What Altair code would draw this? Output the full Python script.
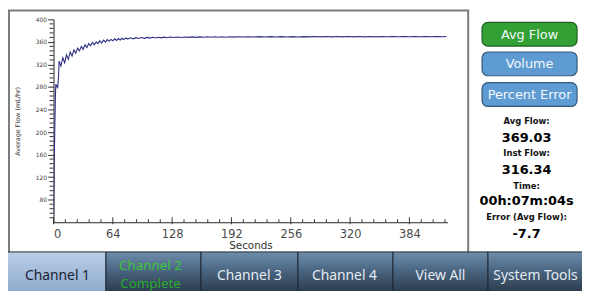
import altair as alt
import pandas as pd

# ---------------- data ----------------
seconds = [0, 1, 2, 2.5, 3.5, 4.5, 5.5, 6,
           8, 10, 12, 14, 16, 18, 20, 22, 24, 26, 28, 30, 32, 34, 36, 38, 40,
           42, 44, 46, 48, 50, 52, 54, 56, 58, 60, 62, 64, 66, 68, 70, 72, 74, 76, 78, 80,
           83, 86, 89, 92, 95, 98, 101, 104, 107, 110, 113, 116, 119, 122,
           126, 130, 134, 138, 142, 146, 150, 154, 158, 162, 166, 170, 174, 178, 182, 186, 190, 194, 198,
           204, 210, 216, 222, 228, 234, 240, 246, 252, 258, 264, 270, 276, 282, 288, 294, 300,
           306, 312, 318, 324, 330, 336, 342, 348, 354, 360, 366, 372, 378, 384, 390, 396, 402,
           408, 414, 420, 424]
avg_flow = [55, 170, 262, 285, 281, 279, 300, 326,
            317, 332, 323, 337, 329, 342, 335, 346, 340, 349, 344, 352, 347, 355, 350, 357, 353,
            359, 355, 360, 357, 362, 358, 363, 359.5, 364, 361, 364.5, 362, 365.5, 362.5, 366, 363.5, 366.5, 364, 367, 365,
            367.2, 365.5, 367.5, 366, 367.8, 366.3, 368, 366.7, 368.2, 367, 368.3, 367.2, 368.5, 367.5,
            368.6, 367.7, 368.7, 367.9, 368.8, 368.0, 368.9, 368.1, 368.9, 368.2, 369.0, 368.3, 369.0, 368.4, 369.1, 368.4, 369.1, 368.5, 369.2,
            368.6, 369.2, 368.7, 369.3, 368.7, 369.3, 368.8, 369.4, 368.8, 369.4, 368.8, 369.4, 368.9, 369.5, 368.9, 369.5, 368.9,
            369.5, 369.0, 369.5, 369.0, 369.6, 369.0, 369.6, 369.0, 369.6, 369.1, 369.6, 369.1, 369.7, 369.1, 369.7, 369.1, 369.7,
            369.2, 369.7, 369.2, 369.5]

x_tick_values = [0, 64, 128, 192, 256, 320, 384]
y_tick_values = [80, 120, 160, 200, 240, 280, 320, 360, 400]

tabs = ["Channel 1", "Channel 2", "Channel 3", "Channel 4", "View All", "System Tools"]
buttons = ["Avg Flow", "Volume", "Percent Error"]
info_labels = ["Avg Flow:", "Inst Flow:", "Time:", "Error (Avg Flow):"]
info_values = ["369.03", "316.34", "00h:07m:04s", "-7.7"]

# ---------------- layout (plot coords; origin = plot top-left) ----------------
W, H = 398, 205
xs = alt.Scale(domain=[0, 425], nice=False, zero=False)
ys = alt.Scale(domain=[40, 400], nice=False, zero=False)
one = pd.DataFrame({"a": [0]})
FONT = "DejaVu Sans"

x_axis = alt.Axis(
    values=x_tick_values, title="Seconds", grid=False, ticks=False, tickSize=0,
    labelPadding=6, labelFont=FONT, labelFontSize=11.5, labelColor="#4a4a4a",
    domainColor="#222222", titleFont=FONT, titleFontSize=10.5, titleFontWeight="normal",
    titleColor="#333333", titleX=W / 2, titleY=24, titleBaseline="middle")
y_axis = alt.Axis(
    values=y_tick_values, title="Average Flow (mL/hr)", grid=False, tickSize=6,
    tickColor="#333333", labelPadding=1, labelFont=FONT, labelFontSize=6,
    labelOverlap=False, labelColor="#444444", domainColor="#222222", titleFont=FONT,
    titleFontSize=6.5, titleFontWeight="normal", titleColor="#333333", titleX=-36,
    titleY=H / 2, titleBaseline="middle")

layers = []

# outer chart box
layers.append(alt.Chart(one).mark_rect(fillOpacity=0, stroke="#7c7c7c", strokeWidth=2).encode(
    x=alt.value(-45), x2=alt.value(419), y=alt.value(-9), y2=alt.value(236)))

# the flow curve with its axes
flow_df = pd.DataFrame({"t": seconds, "v": avg_flow})
layers.append(alt.Chart(flow_df).mark_line(color="#2e2e86", strokeWidth=1.1, clip=True).encode(
    x=alt.X("t:Q", scale=xs, axis=x_axis),
    y=alt.Y("v:Q", scale=ys, axis=y_axis),
))

# minor ticks
y_minor = [v for v in range(48, 400, 8) if v % 40 != 0]
x_minor = [round(k * 12.8, 1) for k in range(1, 34) if k % 5 != 0]
layers.append(alt.Chart(pd.DataFrame({"v": y_minor})).mark_rule(color="#333333", strokeWidth=1).encode(
    y=alt.Y("v:Q", scale=ys, axis=y_axis), x=alt.value(-4), x2=alt.value(0)))
layers.append(alt.Chart(pd.DataFrame({"t": x_minor})).mark_rule(color="#333333", strokeWidth=1).encode(
    x=alt.X("t:Q", scale=xs, axis=x_axis), y=alt.value(H - 3), y2=alt.value(H)))
layers.append(alt.Chart(pd.DataFrame({"t": x_tick_values})).mark_rule(color="#333333", strokeWidth=1).encode(
    x=alt.X("t:Q", scale=xs, axis=x_axis), y=alt.value(H - 5), y2=alt.value(H + 2)))

# bottom tab bar
tab_edges = [-54, 53, 149, 247, 343, 439, 536]
tab_text_x = [4, 98, 198, 294, 391, 487]
sel_grad = alt.LinearGradient(gradient="linear", x1=0, x2=0, y1=0, y2=1, stops=[
    alt.GradientStop(color="#bccfe6", offset=0), alt.GradientStop(color="#a3bcdc", offset=0.5),
    alt.GradientStop(color="#8ea9cc", offset=1)])
dark_grad = alt.LinearGradient(gradient="linear", x1=0, x2=0, y1=0, y2=1, stops=[
    alt.GradientStop(color="#6f8eac", offset=0), alt.GradientStop(color="#4a6682", offset=0.45),
    alt.GradientStop(color="#2b3a4a", offset=1)])
for i, name in enumerate(tabs):
    layers.append(alt.Chart(one).mark_rect(fill=sel_grad if i == 0 else dark_grad,
                                           stroke="#1d2732", strokeWidth=1).encode(
        x=alt.value(max(tab_edges[i], -47)), x2=alt.value(tab_edges[i + 1]),
        y=alt.value(235), y2=alt.value(276)))
    if i == 1:
        layers.append(alt.Chart(one).mark_text(font="Noto Sans", fontSize=13.5, color="#3cc43c").encode(
            x=alt.value(tab_text_x[i]), y=alt.value(249), text=alt.value(name)))
        layers.append(alt.Chart(one).mark_text(font="Noto Sans", fontSize=13.5, color="#27ab2b").encode(
            x=alt.value(tab_text_x[i]), y=alt.value(267), text=alt.value("Complete")))
    else:
        layers.append(alt.Chart(one).mark_text(font="Noto Sans", fontSize=14,
                                               color="#1a2230" if i == 0 else "#e4ebf2").encode(
            x=alt.value(tab_text_x[i]), y=alt.value(259), text=alt.value(name)))

# right panel buttons
btn_top = [3, 33, 64]
btn_fill = ["#33a034", "#5e9bd2", "#5e9bd2"]
btn_stroke = ["#1f5e20", "#36597a", "#36597a"]
for i, name in enumerate(buttons):
    layers.append(alt.Chart(one).mark_rect(fill=btn_fill[i], stroke=btn_stroke[i], strokeWidth=1.2,
                                           cornerRadius=6).encode(
        x=alt.value(433), x2=alt.value(529), y=alt.value(btn_top[i]), y2=alt.value(btn_top[i] + 24)))
    layers.append(alt.Chart(one).mark_text(font=FONT, fontSize=13, color="#f4f8fb").encode(
        x=alt.value(481), y=alt.value(btn_top[i] + 12.5), text=alt.value(name)))

# right panel readouts
lab_y = [103, 135, 168, 200]
val_y = [120, 152, 184, 217]
for i in range(4):
    layers.append(alt.Chart(one).mark_text(font=FONT, fontSize=8.5, fontWeight="bold", color="#111111").encode(
        x=alt.value(478), y=alt.value(lab_y[i]), text=alt.value(info_labels[i])))
    layers.append(alt.Chart(one).mark_text(font=FONT, fontSize=13, fontWeight="bold", color="#000000").encode(
        x=alt.value(478), y=alt.value(val_y[i]), text=alt.value(info_values[i])))

chart = alt.layer(*layers).properties(
    width=W, height=H,
    padding={"left": 46, "top": 10, "right": 136, "bottom": 68},
    autosize=alt.AutoSizeParams(type="none"),
    background="white",
).configure_view(strokeWidth=0)

chart.save("out.html", embed_options={"renderer": "svg", "actions": False})
